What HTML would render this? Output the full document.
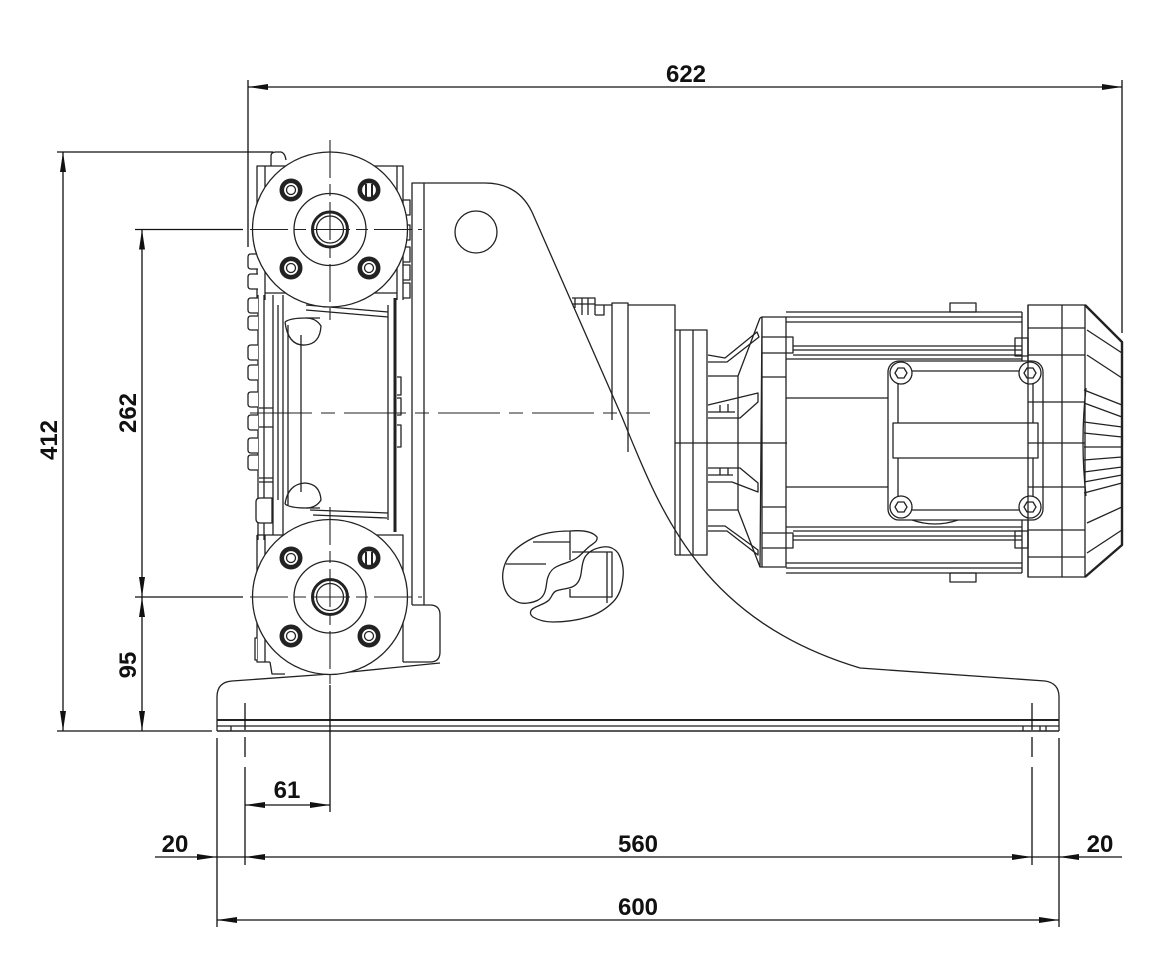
<!DOCTYPE html>
<html><head><meta charset="utf-8"><style>
html,body{margin:0;padding:0;background:#fff;}
svg{display:block;}
text{font-family:"Liberation Sans",Arial,sans-serif;font-weight:bold;font-size:24px;fill:#111;}
</style></head><body>
<svg width="1174" height="959" viewBox="0 0 1174 959" xmlns="http://www.w3.org/2000/svg">
<g fill="none" stroke="#222" stroke-width="1.3" stroke-linejoin="round">

<!-- ===== Stand / bracket + base plate ===== -->
<path d="M412,605 L412,183 L485,183 Q518,183 532,212 L622,417 C660,510 700,620 860,668 L1045,681 Q1059,683 1059,697 L1059,731"/>
<path d="M424,183 L424,605"/>
<path d="M412,605 L430,605 Q440,605 440,615 L440,652 Q440,662 430,662 L403,662"/>
<circle cx="476" cy="232" r="21"/>
<!-- base plate -->
<path d="M217,731 L217,697 Q217,682 232,681 L330,674 L440,663"/>
<line x1="217" y1="720" x2="1059" y2="720" stroke-width="2"/>
<line x1="217" y1="726" x2="1059" y2="726"/>
<line x1="217" y1="731" x2="1059" y2="731" stroke-width="1.5"/>
<path d="M231,726 L231,731 M1023,726 L1023,731 M1040,726 L1040,731 M1046,726 L1046,731"/>

<!-- logo on stand -->
<path d="M597,537 C592,531 582,530 570,531 C555,531 543,533 533,538 C521,544 513,550 508,558 C503,566 502,575 503,581 C504,590 508,597 514,600 C518,603 522,604 528,603 C535,602 541,600 544,594 C547,588 546,582 548,577 C550,571 553,568 558,566 C564,563 572,562 578,557 C583,553 586,549 590,546 C594,543 598,541 597,537 Z"/>
<path d="M603,547 C609,546 614,548 618,553 C622,560 624,568 623,577 C622,588 619,596 613,602 C606,609 598,614 588,617 C578,620 565,622 553,622 C545,622 538,620 533,617 C529,614 530,610 534,608 C539,605 545,604 549,600 C552,597 552,593 556,591 C561,589 567,589 572,587 C577,585 580,580 581,574 C582,568 582,562 585,557 C589,551 596,548 603,547 Z"/>
<path d="M533,542 L570,542 M506,564 L546,564 M570,531 L570,560 M572,552 L612,552 L612,597 L570,597 L570,589 M607,552 L607,603"/>

<!-- ===== Gearbox ===== -->
<path d="M572,298 L595,298 L595,315 M575,298 L575,308 M582,298 L582,315 M588,298 L588,315 M572,304 L595,304 M595,305 L604,305 L604,315 L595,315 M604,305 L612,305"/>
<path d="M612,420 L612,303 L628,303 L628,452 M628,305 L675,305 L675,555"/>
<path d="M675,330 L707,330 L707,555 L675,555 M680,330 L680,555 M693,330 L693,555"/>
<line x1="675" y1="443" x2="787" y2="443"/>

<!-- lantern / fins -->
<path d="M708,376 L738,376 L738,510 L708,510 M738,376 L760,318 M738,510 L760,567"/>
<path d="M708,355 L725,358 L757,332 L759,337 L727,362 L708,362"/>
<path d="M708,405 L758,393 L758,402 L740,418 L708,418 M708,412 L735,412 M720,405 L720,412 M728,404 L728,412"/>
<path d="M708,468 L740,468 L758,483 L758,492 L732,482 L708,482 M708,475 L733,475 M720,468 L720,475 M728,468 L728,475"/>
<path d="M708,526 L725,526 L758,550 L758,555 L727,531 L708,531"/>

<!-- motor flange -->
<path d="M760,318 L762,317 L786,317 L786,567 L762,567 L760,567 L762,317 M762,567 L762,317"/>
<path d="M762,337 L793,337 L793,353 L762,353 M762,377 L786,377 M762,507 L786,507 M762,533 L793,533 L793,548 L762,548"/>

<!-- motor body -->
<path d="M786,312 L1022,312 M786,317 L1022,317 M786,322 L1022,322"/>
<path d="M793,346 L1022,346 M793,350 L1022,350 M793,355 L1022,355 M786,359 L1022,359"/>
<path d="M786,527 L1022,527 M793,531 L1022,531 M793,536 L1022,536 M793,540 L1022,540"/>
<path d="M786,563 L1022,563 M786,568 L1022,568 M786,573 L1022,573"/>
<path d="M786,398 L888,398 M786,487 L888,487"/>
<path d="M1022,312 L1022,573 M1028,305 L1028,577"/>
<rect x="950" y="303" width="26" height="9"/>
<rect x="950" y="573" width="26" height="9"/>
<path d="M1015,338 L1028,338 L1028,356 L1015,356 Z M1015,531 L1028,531 L1028,548 L1015,548 Z"/>

<!-- terminal box -->
<rect x="888" y="361" width="155" height="159" rx="11" fill="#fff"/>
<rect x="898" y="371" width="135" height="139"/>
<rect x="893" y="423" width="145" height="35" fill="#fff"/>
<g fill="#fff">
<circle cx="901" cy="373" r="11"/><circle cx="1030" cy="373" r="11"/>
<circle cx="901" cy="507" r="11"/><circle cx="1030" cy="507" r="11"/>
</g>
<path d="M895,373 L898,368 L904,368 L907,373 L904,378 L898,378 Z M1024,373 L1027,368 L1033,368 L1036,373 L1033,378 L1027,378 Z M895,507 L898,502 L904,502 L907,507 L904,512 L898,512 Z M1024,507 L1027,502 L1033,502 L1036,507 L1033,512 L1027,512 Z"/>
<path d="M912,520 Q935,528 958,520"/>

<!-- end bell + fan cover -->
<rect x="1028" y="305" width="57" height="272"/>
<path d="M1062,305 L1062,577"/>
<path d="M1028,328 L1085,328 M1028,355 L1085,355 M1028,402 L1085,402 M1028,443 L1085,443 M1028,487 L1085,487 M1028,530 L1085,530 M1028,557 L1085,557"/>
<path d="M1085,305 L1122,342 L1122,545 L1085,577" stroke-width="2.4"/>
<path d="M1087,330 L1122,353 M1087,355 L1122,378 M1084,390 L1122,405 M1084,403 L1122,417 M1084,422 L1122,427 M1084,433 L1122,437 M1084,447 L1122,447 M1084,460 L1122,457 M1084,472 L1122,467 M1084,482 L1122,475 M1084,493 L1122,483 M1087,523 L1122,507 M1087,553 L1122,530"/>
<path d="M1086,388 Q1080,442 1086,496"/>

<!-- ===== Pump bodies ===== -->
<path d="M257,300 L257,166 L403,166 L403,300 M265,166 L265,300 M397,166 L397,300"/>
<path d="M271,166 L271,156 Q271,152 276,152 L281,152 Q285,153 286,160"/>
<path d="M265,293 L290,293 M372,293 L397,293"/>
<path d="M257,535 L403,535 L403,662 M257,535 L257,662 L270,662 M265,535 L265,662 M270,662 L272,674 L285,674"/>
<!-- middle column -->
<path d="M258,295 L258,540 M264,295 L264,540 M273,295 L273,535 M278,305 L278,500 M283,295 L283,535 M288,325 L288,505 M301,335 L301,492"/>
<path d="M259,408 L273,408 M259,427 L273,427 M259,478 L273,478 M259,482 L273,482"/>
<!-- right wall -->
<path d="M388,305 L388,520"/>
<line x1="395" y1="298" x2="395" y2="532" stroke-width="3"/>
<path d="M397,377 L401,377 L401,395 L397,395 M397,398 L401,398 L401,415 L397,415 M397,425 L401,425 L401,447 L397,447"/>
<path d="M403,200 L410,200 L410,215 L403,215 M403,225 L410,225 L410,240 L403,240 M403,247 L410,247 L410,262 L403,262 M403,265 L410,265 L410,280 L403,280 M403,283 L410,283 L410,298 L403,298"/>
<!-- chamber top/bottom details -->
<path d="M306,305 L388,312 M306,310 L388,317 M306,318 L320,318"/>
<path d="M285,322 Q288,346 305,345 Q320,344 321,326 Q316,318 306,318 Q290,318 285,322"/>
<path d="M310,510 L388,513 M313,515 L387,518 M306,508 L320,508"/>
<path d="M285,504 Q288,484 305,483 Q320,484 321,500 Q316,508 306,508 Q290,508 285,504"/>
<!-- left bolts -->
<g fill="#fff">
<path d="M258,254 L251,254 Q248,254 248,257 L248,266 Q248,269 251,269 L258,269"/>
<path d="M258,274 L251,274 Q248,274 248,277 L248,286 Q248,289 251,289 L258,289"/>
<path d="M258,298 L251,298 Q248,298 248,301 L248,310 Q248,313 251,313 L258,313"/>
<path d="M258,316 L251,316 Q248,316 248,319 L248,327 Q248,330 251,330 L258,330"/>
<path d="M258,345 L251,345 Q248,345 248,348 L248,357 Q248,360 251,360 L258,360"/>
<path d="M258,365 L251,365 Q248,365 248,368 L248,377 Q248,380 251,380 L258,380"/>
<path d="M258,392 L251,392 Q248,392 248,395 L248,404 Q248,407 251,407 L258,407"/>
<path d="M258,415 L251,415 Q248,415 248,418 L248,427 Q248,430 251,430 L258,430"/>
<path d="M258,438 L251,438 Q248,438 248,441 L248,450 Q248,453 251,453 L258,453"/>
<path d="M258,455 L251,455 Q248,455 248,458 L248,467 Q248,470 251,470 L258,470"/>
<path d="M272,498 L260,498 Q256,498 256,502 L256,519 Q256,523 260,523 L272,523 Z"/>
<path d="M257,638 L255,638 L255,660 L257,660"/>
</g>

<!-- Flanges -->
<g fill="#fff">
<circle cx="330" cy="229.5" r="77.5"/>
<circle cx="330" cy="597" r="77.5"/>
</g>
<circle cx="330" cy="229.5" r="36"/>
<circle cx="330" cy="597" r="36"/>
<circle cx="330" cy="229.5" r="17.5" stroke-width="3"/>
<circle cx="330" cy="229.5" r="13.5"/>
<circle cx="330" cy="597" r="17.5" stroke-width="3"/>
<circle cx="330" cy="597" r="13.5"/>
<g stroke-width="4.6">
<circle cx="291" cy="190" r="9.2"/><circle cx="369" cy="190" r="9.2"/>
<circle cx="291" cy="268" r="9.2"/><circle cx="369" cy="268" r="9.2"/>
<circle cx="291" cy="558" r="9.2"/><circle cx="369" cy="558" r="9.2"/>
<circle cx="291" cy="636" r="9.2"/><circle cx="369" cy="636" r="9.2"/>
</g>
<g>
<circle cx="291" cy="190" r="4.5"/><circle cx="291" cy="268" r="4.5"/><circle cx="369" cy="268" r="4.5"/>
<circle cx="291" cy="558" r="4.5"/><circle cx="291" cy="636" r="4.5"/><circle cx="369" cy="636" r="4.5"/>
</g>
<path d="M366,184 L366,197 M372,184 L372,197 M366,552 L366,565 M372,552 L372,565" stroke-width="2"/>

<!-- ===== Centre lines ===== -->
<g stroke-width="1.1" stroke-dasharray="38,6,12,6">
<line x1="250" y1="229.5" x2="422" y2="229.5"/>
<line x1="330" y1="140" x2="330" y2="320"/>
<line x1="250" y1="597" x2="422" y2="597"/>
<line x1="330" y1="507" x2="330" y2="684"/>
</g>
<line x1="250" y1="413" x2="650" y2="413" stroke-width="1.1" stroke-dasharray="62,9,14,9"/>

<!-- ===== Dimension lines ===== -->
<g stroke="#111" stroke-width="1.3">
<line x1="248" y1="87" x2="1122" y2="87"/>
<line x1="248" y1="80" x2="248" y2="247"/>
<line x1="1122" y1="80" x2="1122" y2="333"/>
<line x1="63" y1="152" x2="63" y2="731"/>
<line x1="57" y1="152" x2="273" y2="152"/>
<line x1="57" y1="731" x2="212" y2="731"/>
<line x1="142" y1="229" x2="142" y2="731"/>
<line x1="135" y1="229.5" x2="243" y2="229.5"/>
<line x1="135" y1="597" x2="243" y2="597"/>
<line x1="245" y1="805" x2="330" y2="805"/>
<line x1="330" y1="685" x2="330" y2="812"/>
<line x1="155" y1="857" x2="1122" y2="857"/>
<line x1="217" y1="920" x2="1059" y2="920"/>
<line x1="217" y1="738" x2="217" y2="927"/>
<line x1="1059" y1="738" x2="1059" y2="927"/>
<path d="M245,703 L245,730 M245,737 L245,757 M245,767 L245,865"/>
<path d="M1032,703 L1032,730 M1032,737 L1032,757 M1032,767 L1032,865"/>
</g>
</g>

<!-- arrowheads -->
<g fill="#111" stroke="none">
<polygon points="248,87 268,84 268,90"/>
<polygon points="1122,87 1102,84 1102,90"/>
<polygon points="63,152 60,172 66,172"/>
<polygon points="63,731 60,711 66,711"/>
<polygon points="142,229.5 139,249.5 145,249.5"/>
<polygon points="142,597 139,577 145,577"/>
<polygon points="142,597 139,617 145,617"/>
<polygon points="142,731 139,711 145,711"/>
<polygon points="245,805 265,802 265,808"/>
<polygon points="330,805 310,802 310,808"/>
<polygon points="217,857 197,854 197,860"/>
<polygon points="245,857 265,854 265,860"/>
<polygon points="1032,857 1012,854 1012,860"/>
<polygon points="1059,857 1079,854 1079,860"/>
<polygon points="217,920 237,917 237,923"/>
<polygon points="1059,920 1039,917 1039,923"/>
</g>

<!-- dimension texts -->
<text x="686" y="82" text-anchor="middle">622</text>
<text transform="translate(57,440) rotate(-90)" text-anchor="middle">412</text>
<text transform="translate(136,413) rotate(-90)" text-anchor="middle">262</text>
<text transform="translate(136,665) rotate(-90)" text-anchor="middle">95</text>
<text x="287" y="798" text-anchor="middle">61</text>
<text x="175" y="852" text-anchor="middle">20</text>
<text x="638" y="852" text-anchor="middle">560</text>
<text x="1100" y="852" text-anchor="middle">20</text>
<text x="638" y="915" text-anchor="middle">600</text>
</svg>
</body></html>
